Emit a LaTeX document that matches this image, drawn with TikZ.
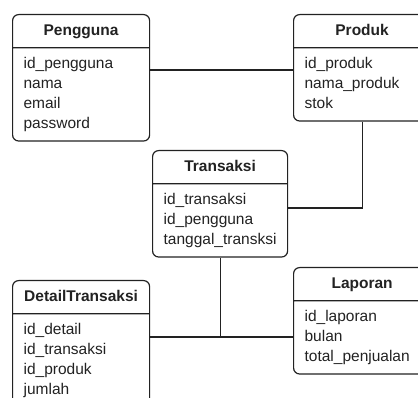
\documentclass[tikz,border=0pt]{standalone}
\usepackage{fontspec}
\setmainfont{Liberation Sans}
\usetikzlibrary{shapes.multipart}
\definecolor{Ink}{HTML}{222222}

\begin{document}
\begin{tikzpicture}[x=1pt,y=-1pt,
  entity/.style={rectangle split,rectangle split parts=2,draw=Ink,line width=1.2pt,
    rounded corners=6pt,rectangle split part align={center,left},align=left,
    anchor=north west,inner xsep=11pt,inner ysep=6pt,minimum width=137pt,
    text=Ink,font=\fontsize{15.5}{20}\selectfont},
  link/.style={draw=Ink,line width=1.2pt}
]
  \path[use as bounding box,clip] (0,0) rectangle (418,398);

  % entities
  \node[entity] (pengguna) at (12,14)
    {\strut\textbf{Pengguna}\nodepart{two}\strut id\_pengguna\\nama\\email\\password\strut};
  \node[entity] (produk) at (293,14)
    {\strut\textbf{Produk}\nodepart{two}\strut id\_produk\\nama\_produk\\stok\strut};
  \node[entity,minimum width=135pt] (transaksi) at (152,150)
    {\strut\textbf{Transaksi}\nodepart{two}\strut id\_transaksi\\id\_pengguna\\tanggal\_transksi\strut};
  \node[entity] (detail) at (12,280)
    {\strut\textbf{DetailTransaksi}\nodepart{two}\strut id\_detail\\id\_transaksi\\id\_produk\\jumlah\strut};
  \node[entity] (laporan) at (293,267)
    {\strut\textbf{Laporan}\nodepart{two}\strut id\_laporan\\bulan\\total\_penjualan\strut};

  % relations
  \coordinate (r1) at (0,70);
  \coordinate (r2) at (0,208);
  \coordinate (jn) at (transaksi.south |- 0,337);
  \draw[link] (pengguna.east |- r1) -- (produk.west |- r1);
  \draw[link] (produk.south) |- (transaksi.east |- r2);
  \draw[link] (transaksi.south) -- (jn);
  \draw[link] (detail.east |- jn) -- (laporan.west |- jn);
\end{tikzpicture}
\end{document}
